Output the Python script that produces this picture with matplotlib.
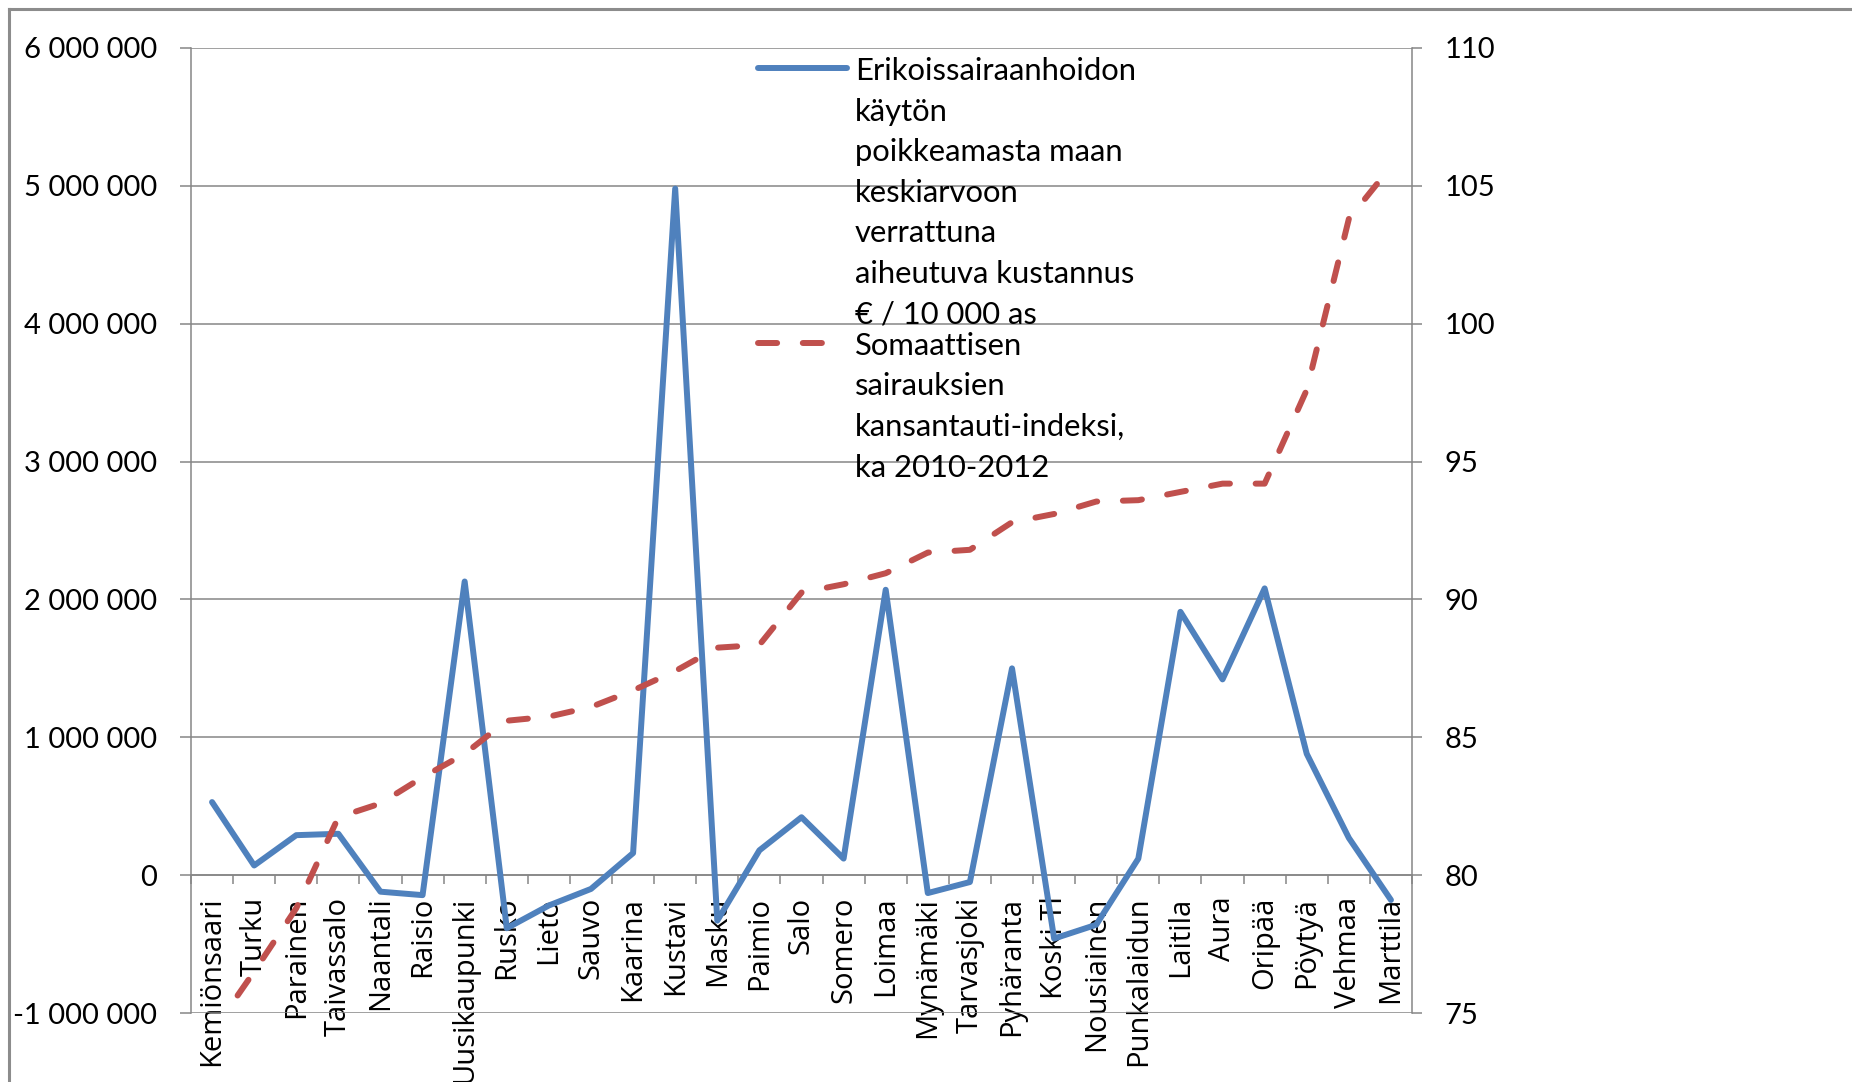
import matplotlib
matplotlib.use('Agg')
import matplotlib.pyplot as plt
from matplotlib.lines import Line2D
from matplotlib.ticker import FuncFormatter
import numpy as np

# kunnat (x-akseli)
kunnat = ['Kemiönsaari', 'Turku', 'Parainen', 'Taivassalo', 'Naantali', 'Raisio',
          'Uusikaupunki', 'Rusko', 'Lieto', 'Sauvo', 'Kaarina', 'Kustavi', 'Masku',
          'Paimio', 'Salo', 'Somero', 'Loimaa', 'Mynämäki', 'Tarvasjoki', 'Pyhäranta',
          'Koski Tl', 'Nousiainen', 'Punkalaidun', 'Laitila', 'Aura', 'Oripää',
          'Pöytyä', 'Vehmaa', 'Marttila']

# kustannus, € / 10 000 as (vasen akseli)
kustannus = [530000, 70000, 290000, 300000, -120000, -145000, 2130000, -385000,
             -220000, -100000, 160000, 4980000, -330000, 180000, 420000, 120000,
             2070000, -130000, -50000, 1500000, -460000, -360000, 120000, 1910000,
             1420000, 2080000, 880000, 270000, -180000]

# kansantauti-indeksi (oikea akseli)
indeksi = [74.3, 76.5, 78.8, 82.1, 82.6, 83.55, 84.4, 85.6, 85.75, 86.1, 86.7,
           87.4, 88.25, 88.35, 90.25, 90.55, 90.95, 91.7, 91.8, 92.8, 93.1, 93.55,
           93.6, 93.9, 94.2, 94.2, 97.6, 103.8, 105.7]

label_blue = ('Erikoissairaanhoidon\nkäytön\npoikkeamasta maan\nkeskiarvoon\n'
              'verrattuna\naiheutuva kustannus\n€ / 10 000 as')
label_red = 'Somaattisen\nsairauksien\nkansantauti-indeksi,\nka 2010-2012'

plt.rcParams['font.family'] = ['Lato', 'DejaVu Sans']
grey = '#868686'

W, H = 1852, 1082
fig = plt.figure(figsize=(W / 100, H / 100), dpi=100)
ax = fig.add_axes([191 / W, 69 / H, 1221 / W, 965 / H])
ax2 = ax.twinx()

x = np.arange(len(kunnat))
blue, = ax.plot(x, kustannus, color='#4F81BD', lw=4.3,
                solid_capstyle='round', solid_joinstyle='round', zorder=3)
red, = ax2.plot(x, indeksi, color='#C0504D', lw=4.3, linestyle=(0, (3.2, 4.3)),
                dash_capstyle='round', dash_joinstyle='round', zorder=3)

ax.set_xlim(-0.5, len(kunnat) - 0.5)
ax.set_ylim(-1e6, 6e6)
ax2.set_ylim(75, 110)
ax.set_yticks(np.arange(-1e6, 6.1e6, 1e6))
ax2.set_yticks(np.arange(75, 111, 5))
ax.yaxis.set_major_formatter(FuncFormatter(lambda v, p: f'{int(round(v)):,}'.replace(',', ' ')))

ax.grid(axis='y', color=grey, lw=1.1)
ax.set_axisbelow(True)

for s in ['top', 'right']:
    ax.spines[s].set_visible(False)
for s in ['top', 'left', 'bottom']:
    ax2.spines[s].set_visible(False)
ax.spines['bottom'].set_position(('data', 0))
ax.spines['left'].set_color(grey)
ax.spines['bottom'].set_color(grey)
ax2.spines['right'].set_color(grey)
for sp in [ax.spines['left'], ax.spines['bottom'], ax2.spines['right']]:
    sp.set_linewidth(1.1)

# x-akseli: jakoviivat kategorioiden välissä, nimet keskellä
ax.set_xticks(np.arange(-0.5, len(kunnat), 1))
ax.set_xticks(x, minor=True)
ax.set_xticklabels([''] * (len(kunnat) + 1))
ax.set_xticklabels(kunnat, minor=True, rotation=90, fontfamily=['Open Sans', 'DejaVu Sans'],
                   fontsize=21)
ax.tick_params(axis='x', which='major', length=6.5, width=1.1, color=grey, direction='out')
ax.tick_params(axis='x', which='minor', length=0, pad=15.5)

ax.tick_params(axis='y', length=8, width=1.1, color=grey, labelsize=21, pad=16.5)
ax2.tick_params(axis='y', length=7.5, width=1.1, color=grey, labelsize=21, pad=15.8)

leg = fig.legend(handles=[blue, red], labels=[label_blue, label_red],
                 loc='upper left', bbox_to_anchor=(758 / W, 1 - 57 / H),
                 frameon=False, fontsize=22.3, handlelength=2.86, handletextpad=0.26,
                 borderpad=0, borderaxespad=0, labelspacing=0.1)
for t in leg.get_texts():
    t.set_linespacing(1.548)
for item in leg._legend_handle_box.get_children()[0].get_children():
    item.align = 'top'

# kaavion reunaviiva
fig.add_artist(Line2D([9 / W, 9 / W], [0, 1 - 9 / H], transform=fig.transFigure,
                      color='#8c8c8c', lw=2.2))
fig.add_artist(Line2D([9 / W, 1], [1 - 9 / H, 1 - 9 / H], transform=fig.transFigure,
                      color='#8c8c8c', lw=2.2))

fig.savefig('out.png', dpi=100)
